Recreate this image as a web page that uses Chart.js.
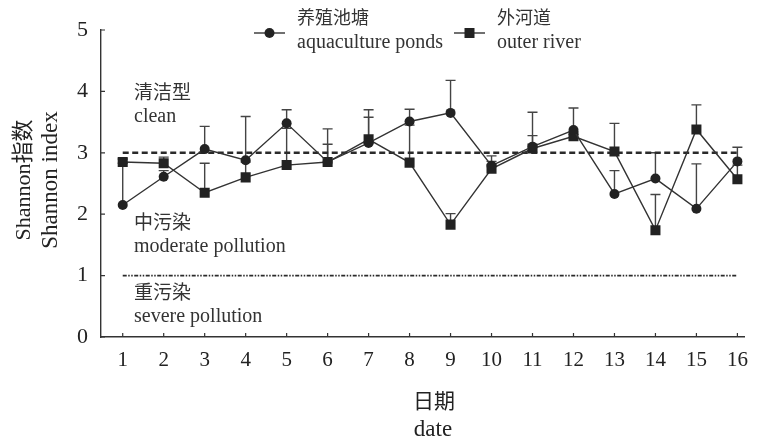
<!DOCTYPE html>
<html>
<head>
<meta charset="utf-8">
<script src="https://cdn.jsdelivr.net/npm/chart.js@4"></script>
<style>
  html, body { margin: 0; padding: 0; background: #fff; }
  #wrap { width: 759px; height: 445px; }
</style>
</head>
<body>
<div id="wrap"><canvas id="c" width="759" height="445"></canvas></div>
<script>
// Sampling dates and Shannon diversity index per site
const days = [1, 2, 3, 4, 5, 6, 7, 8, 9, 10, 11, 12, 13, 14, 15, 16];
const ponds = [2.15, 2.61, 3.06, 2.88, 3.48, 2.85, 3.16, 3.51, 3.65, 2.79, 3.10, 3.37, 2.33, 2.58, 2.09, 2.86];
const pondsSD = [0.68, 0.10, 0.37, 0.71, 0.22, 0.54, 0.42, 0.20, 0.53, 0.16, 0.56, 0.36, 0.38, 0.42, 0.73, 0.23];
const river = [2.85, 2.83, 2.35, 2.60, 2.80, 2.85, 3.22, 2.84, 1.83, 2.74, 3.07, 3.27, 3.02, 1.74, 3.38, 2.57];
const riverSD = [0.05, 0.10, 0.48, 0.25, 0.60, 0.29, 0.48, 0.61, 0.18, 0.12, 0.21, 0.03, 0.46, 0.58, 0.40, 0.23];
const yTicks = [0, 1, 2, 3, 4, 5];
const cleanLevel = 3;
const severeLevel = 1;

const SERIF = "'Liberation Serif', 'Noto Sans CJK SC', serif";
const CJK = "'Noto Sans CJK SC', 'Liberation Serif', sans-serif";
const INK = '#222';
const LINE = '#333';

const pts = (vals) => days.map((d, i) => ({ x: d, y: vals[i] }));

// Upper-only error bars with caps, drawn beneath the markers
const errorBars = {
  id: 'errorBars',
  beforeDatasetsDraw(chart) {
    const { ctx, scales: { x, y } } = chart;
    ctx.save();
    ctx.strokeStyle = '#444';
    ctx.lineWidth = 1.4;
    chart.data.datasets.forEach((ds) => {
      if (!ds.sd) return;
      ds.data.forEach((p, i) => {
        const px = x.getPixelForValue(p.x);
        const y0 = y.getPixelForValue(p.y);
        const y1 = y.getPixelForValue(p.y + ds.sd[i]);
        ctx.beginPath();
        ctx.moveTo(px, y0);
        ctx.lineTo(px, y1);
        ctx.moveTo(px - 5, y1);
        ctx.lineTo(px + 5, y1);
        ctx.stroke();
      });
    });
    ctx.restore();
  }
};

// Inward tick marks, axis titles, zone labels and legend
const decorations = {
  id: 'decorations',
  afterDraw(chart) {
    const { ctx, scales: { x, y }, chartArea: a } = chart;
    ctx.save();
    ctx.strokeStyle = LINE;
    ctx.lineWidth = 1.2;
    ctx.beginPath();
    yTicks.forEach((v) => {
      const py = y.getPixelForValue(v);
      ctx.moveTo(a.left, py);
      ctx.lineTo(a.left + 4, py);
    });
    days.forEach((d) => {
      const px = x.getPixelForValue(d);
      ctx.moveTo(px, a.bottom);
      ctx.lineTo(px, a.bottom - 4);
    });
    ctx.stroke();

    // y axis title, two lines
    ctx.fillStyle = INK;
    ctx.textAlign = 'center';
    ctx.textBaseline = 'middle';
    const cy = 180;
    ctx.save();
    ctx.translate(24, cy);
    ctx.rotate(-Math.PI / 2);
    ctx.font = `22px ${SERIF}`;
    ctx.fillText('Shannon指数', 0, 0);
    ctx.restore();
    ctx.save();
    ctx.translate(51, cy);
    ctx.rotate(-Math.PI / 2);
    ctx.font = `23px ${SERIF}`;
    ctx.fillText('Shannon index', 0, 0);
    ctx.restore();

    // x axis title
    ctx.font = `21px ${CJK}`;
    ctx.fillText('日期', 434, 400);
    ctx.font = `23px ${SERIF}`;
    ctx.fillText('date', 433, 430);

    // pollution zone labels
    ctx.fillStyle = '#333';
    ctx.textAlign = 'left';
    const lx = 134;
    const zone = (cn, en, yc) => {
      ctx.font = `19px ${CJK}`;
      ctx.fillText(cn, lx, yc);
      ctx.font = `20px ${SERIF}`;
      ctx.fillText(en, lx, yc + 25);
    };
    zone('清洁型', 'clean', 92);
    zone('中污染', 'moderate pollution', 222);
    zone('重污染', 'severe pollution', 292);

    // legend
    const drawKey = (x0, style, l1, l2) => {
      const ly = 33;
      ctx.strokeStyle = LINE;
      ctx.lineWidth = 1.4;
      ctx.beginPath();
      ctx.moveTo(x0, ly);
      ctx.lineTo(x0 + 31, ly);
      ctx.stroke();
      ctx.fillStyle = INK;
      if (style === 'circle') {
        ctx.beginPath();
        ctx.arc(x0 + 15.5, ly, 5, 0, Math.PI * 2);
        ctx.fill();
      } else {
        ctx.fillRect(x0 + 10.5, ly - 5, 10, 10);
      }
      ctx.fillStyle = '#333';
      ctx.font = `18px ${CJK}`;
      ctx.fillText(l1, x0 + 43, 17);
      ctx.font = `20px ${SERIF}`;
      ctx.fillText(l2, x0 + 43, 43);
    };
    drawKey(254, 'circle', '养殖池塘', 'aquaculture ponds');
    drawKey(454, 'rect', '外河道', 'outer river');
    ctx.restore();
  }
};

new Chart(document.getElementById('c'), {
  type: 'line',
  data: {
    datasets: [
      {
        label: '清洁型',
        data: [{ x: days[0], y: cleanLevel }, { x: days[days.length - 1], y: cleanLevel }],
        borderColor: '#2a2a2a',
        borderWidth: 2.6,
        borderDash: [6, 3.5],
        pointRadius: 0,
        order: 3
      },
      {
        label: '重污染',
        data: [{ x: days[0], y: severeLevel }, { x: days[days.length - 1], y: severeLevel }],
        borderColor: '#2a2a2a',
        borderWidth: 1.8,
        borderDash: [4, 1.5, 1.5, 1.5, 1.5, 1.5],
        pointRadius: 0,
        order: 3
      },
      {
        label: '外河道',
        data: pts(river),
        sd: riverSD,
        borderColor: LINE,
        borderWidth: 1.4,
        pointStyle: 'rect',
        pointRadius: 7.1,
        pointBackgroundColor: INK,
        pointBorderColor: INK,
        pointBorderWidth: 0,
        tension: 0,
        order: 2
      },
      {
        label: '养殖池塘',
        data: pts(ponds),
        sd: pondsSD,
        borderColor: LINE,
        borderWidth: 1.4,
        pointStyle: 'circle',
        pointRadius: 5,
        pointBackgroundColor: INK,
        pointBorderColor: INK,
        pointBorderWidth: 0,
        tension: 0,
        order: 1
      }
    ]
  },
  options: {
    responsive: false,
    animation: false,
    layout: { padding: { left: 0, top: 30, right: 9, bottom: 0 } },
    plugins: { legend: { display: false }, tooltip: { enabled: false } },
    scales: {
      x: {
        type: 'linear',
        min: 0.47,
        max: 16.17,
        afterBuildTicks: (s) => { s.ticks = days.map((d) => ({ value: d })); },
        afterFit: (s) => { s.height = 108; },
        grid: { display: false, drawTicks: false },
        border: { display: true, color: LINE, width: 1.4 },
        ticks: { color: INK, font: { family: SERIF, size: 21 }, padding: 11, maxRotation: 0, autoSkip: false }
      },
      y: {
        min: 0,
        max: 5,
        afterBuildTicks: (s) => { s.ticks = yTicks.map((v) => ({ value: v })); },
        afterFit: (s) => { s.width = 101; },
        grid: { display: false, drawTicks: false },
        border: { display: true, color: LINE, width: 1.4 },
        ticks: { color: INK, font: { family: SERIF, size: 22 }, padding: 13 }
      }
    }
  },
  plugins: [errorBars, decorations]
});
</script>
</body>
</html>
